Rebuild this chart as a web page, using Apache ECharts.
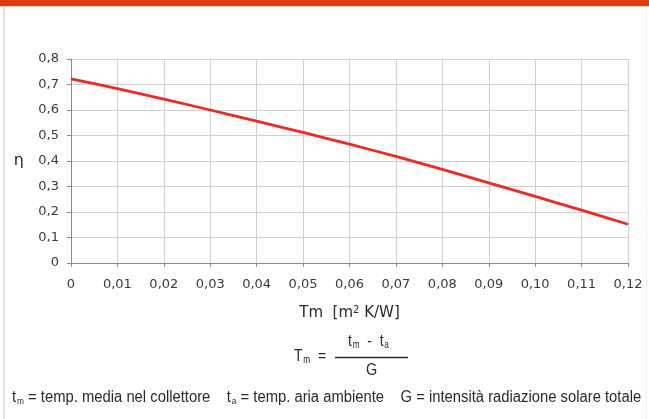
<!DOCTYPE html>
<html>
<head>
<meta charset="utf-8">
<script src="https://cdn.jsdelivr.net/npm/echarts@6/dist/echarts.min.js"></script>
<style>
html,body{margin:0;padding:0;background:#fff;}
#c{width:649px;height:419px;}
</style>
</head>
<body>
<div id="c"></div>
<script>
// Data
const tmValues = [0, 0.01, 0.02, 0.03, 0.04, 0.05, 0.06, 0.07, 0.08, 0.09, 0.10, 0.11, 0.12];
const etaValues = [0.722, 0.684, 0.643, 0.600, 0.556, 0.512, 0.466, 0.418, 0.367, 0.314, 0.261, 0.207, 0.152];
const xAxisName = 'Tm  [m{sup|2} K/W]';
const yAxisName = 'η';

const chart = echarts.init(document.getElementById('c'), null, {renderer: 'canvas'});
const labelFont = 'DejaVu Sans, Verdana, sans-serif';
const condFont = '"Liberation Sans", Arial, sans-serif';

function fmt(v, d) {
  if (Math.abs(v) < 1e-9) return '0';
  return v.toFixed(d).replace('.', ',');
}

const option = {
  animation: false,
  backgroundColor: '#ffffff',
  grid: {left: 71, right: 21, top: 59, bottom: 156, containLabel: false},
  xAxis: {
    type: 'value', min: 0, max: 0.12, interval: 0.01,
    name: xAxisName,
    nameLocation: 'middle', nameGap: 42,
    nameTextStyle: {
      fontFamily: labelFont, fontSize: 15, color: '#2a2a2a',
      rich: {sup: {fontFamily: labelFont, fontSize: 10, color: '#2a2a2a', verticalAlign: 'top', padding: [0,0,7,0]}}
    },
    axisLine: {show: true, lineStyle: {color: '#8a8a8a', width: 1}},
    axisTick: {show: true, length: 4, lineStyle: {color: '#8a8a8a'}},
    axisLabel: {
      fontFamily: labelFont, fontSize: 13, color: '#3a3a3a', margin: 15,
      formatter: v => fmt(v, 2)
    },
    splitLine: {show: true, lineStyle: {color: '#d0d0d0', width: 1}}
  },
  yAxis: {
    type: 'value', min: 0, max: 0.8, interval: 0.1,
    name: yAxisName,
    nameLocation: 'middle', nameGap: 47, nameRotate: 0,
    nameTextStyle: {fontFamily: labelFont, fontSize: 16, color: '#2a2a2a'},
    axisLine: {show: true, lineStyle: {color: '#8a8a8a', width: 1}},
    axisTick: {show: true, length: 4, lineStyle: {color: '#8a8a8a'}},
    axisLabel: {
      fontFamily: labelFont, fontSize: 13, color: '#3a3a3a', margin: 12,
      formatter: v => fmt(v, 1)
    },
    splitLine: {show: true, lineStyle: {color: '#d0d0d0', width: 1}}
  },
  series: [{
    type: 'line',
    data: tmValues.map((t, i) => [t, etaValues[i]]),
    showSymbol: false,
    smooth: 0.2,
    lineStyle: {color: '#ee2a24', width: 2.8},
    z: 5
  }],
  graphic: [
    {type: 'rect', shape: {x: 0, y: 0, width: 649, height: 6}, style: {fill: '#e2361b'}},
    {type: 'rect', shape: {x: 0, y: 6, width: 649, height: 1}, style: {fill: '#f6d3c8'}},
    {type: 'rect', shape: {x: 3, y: 7, width: 2, height: 412}, style: {fill: '#e2e2e2'}},
    {type: 'rect', shape: {x: 646, y: 7, width: 1, height: 412}, style: {fill: '#f0f0f0'}},
    // formula
    {type: 'text', x: 294, y: 347, scaleX: 0.82, style: {
      text: 'T{sub|m}  =', fill: '#2a2a2a', font: '17px ' + condFont,
      rich: {sub: {fontSize: 10, fill: '#2a2a2a', fontFamily: condFont, padding: [8,0,0,1]}}
    }},
    {type: 'line', shape: {x1: 335, y1: 357.5, x2: 408, y2: 357.5}, style: {stroke: '#2a2a2a', lineWidth: 1.4}},
    {type: 'text', x: 348, y: 332, scaleX: 0.82, style: {
      text: 't{sub|m}  -  t{sub|a}', fill: '#2a2a2a', font: '17px ' + condFont,
      rich: {sub: {fontSize: 10, fill: '#2a2a2a', fontFamily: condFont, padding: [8,0,0,1]}}
    }},
    {type: 'text', x: 366, y: 362, scaleX: 0.85, style: {text: 'G', fill: '#2a2a2a', font: '17px ' + condFont}},
    // footnote
    {type: 'text', x: 12, y: 389, scaleX: 0.925, style: {
      text: 't{sub|m} = temp. media nel collettore    t{sub|a} = temp. aria ambiente    G = intensità radiazione solare totale',
      fill: '#2a2a2a', font: '16px ' + condFont,
      rich: {sub: {fontSize: 9, fill: '#2a2a2a', fontFamily: condFont, padding: [8,0,0,1]}}
    }}
  ]
};
chart.setOption(option);
</script>
</body>
</html>
